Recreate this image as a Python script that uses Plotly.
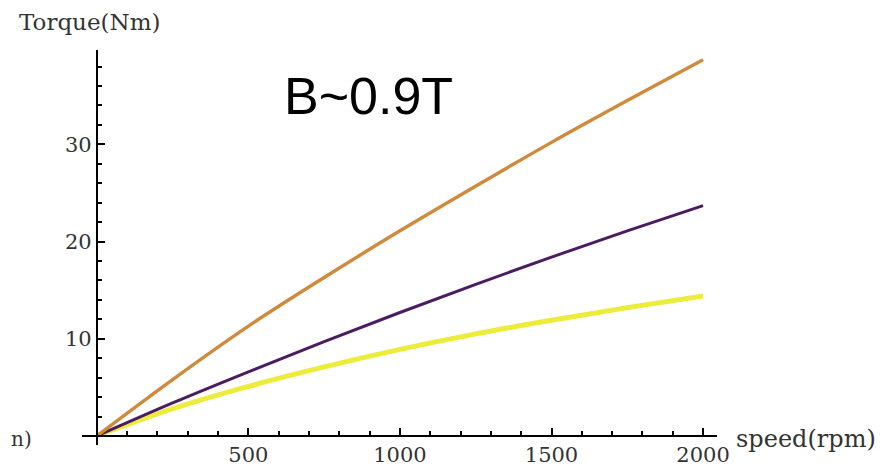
import plotly.graph_objects as go

speed = [0, 250, 500, 750, 1000, 1250, 1500, 1750, 2000]
torque_orange = [0, 5.8, 11.3, 16.3, 21.1, 25.7, 30.2, 34.5, 38.7]
torque_purple = [0, 3.4, 6.6, 9.7, 12.7, 15.6, 18.4, 21.1, 23.7]
torque_yellow = [0, 2.8, 5.1, 7.1, 8.9, 10.5, 11.9, 13.2, 14.4]

x_ticks = [500, 1000, 1500, 2000]
y_ticks = [10, 20, 30]

W, H = 890, 472
OFF = 8  # page body margin of the html page
# target plot box in window pixels: left 82, right 717, top 50, bottom 445
L = 82 - OFF
T = 50 - OFF
R = W - (717 - OFF)
B = H - (445 - OFF)
PW, PH = W - L - R, H - T - B
XR = [-49, 2046]
YR = [-0.93, 39.7]

def pxx(px):
    return (px - OFF - L) / PW

def pxy(py):
    return (H - B - (py - OFF)) / PH

fig = go.Figure()
fig.add_trace(go.Scatter(x=speed, y=torque_yellow, mode="lines",
                         line=dict(color="#ecec3a", width=5, shape="spline"), showlegend=False))
fig.add_trace(go.Scatter(x=speed, y=torque_purple, mode="lines",
                         line=dict(color="#4a1d62", width=3, shape="spline"), showlegend=False))
fig.add_trace(go.Scatter(x=speed, y=torque_orange, mode="lines",
                         line=dict(color="#cf8a3c", width=3.4, shape="spline"), showlegend=False))

xpos = (0 - YR[0]) / (YR[1] - YR[0])
ypos = (0 - XR[0]) / (XR[1] - XR[0])

tickfont = dict(family="DejaVu Serif", size=21, color="#333333")

fig.update_layout(
    width=W, height=H,
    margin=dict(l=L, r=R, t=T, b=B, autoexpand=False),
    plot_bgcolor="white", paper_bgcolor="white",
    xaxis=dict(range=XR, showgrid=False, zeroline=False, showline=True, linecolor="black",
               linewidth=2, anchor="free", position=xpos, automargin=False,
               tickmode="array", tickvals=x_ticks,
               ticks="inside", ticklen=7, tickwidth=2, tickcolor="black", tickfont=tickfont,
               minor=dict(ticks="inside", dtick=100, tick0=0, ticklen=4, tickwidth=2,
                          tickcolor="black", showgrid=False)),
    yaxis=dict(range=YR, showgrid=False, zeroline=False, showline=True, linecolor="black",
               linewidth=2, anchor="free", position=ypos, automargin=False,
               tickmode="array", tickvals=y_ticks,
               ticks="inside", ticklen=7, tickwidth=2, tickcolor="black", tickfont=tickfont,
               minor=dict(ticks="inside", dtick=2, tick0=0, ticklen=4, tickwidth=2,
                          tickcolor="black", showgrid=False)),
    annotations=[
        dict(text="Torque(Nm)", xref="paper", yref="paper", x=pxx(17), y=pxy(22),
             xanchor="left", yanchor="middle", showarrow=False,
             font=dict(family="DejaVu Serif", size=23, color="#333333")),
        dict(text="speed(rpm)", xref="paper", yref="paper", x=pxx(734), y=pxy(439),
             xanchor="left", yanchor="middle", showarrow=False,
             font=dict(family="DejaVu Serif", size=24, color="#333333")),
        dict(text="n)", xref="paper", yref="paper", x=pxx(9), y=pxy(439),
             xanchor="left", yanchor="middle", showarrow=False,
             font=dict(family="DejaVu Serif", size=20, color="#333333")),
        dict(text="B~0.9T", xref="paper", yref="paper", x=pxx(368), y=pxy(96),
             xanchor="center", yanchor="middle", showarrow=False,
             font=dict(family="Liberation Sans", size=52, color="black")),
    ],
)

fig.write_html("out.html")
